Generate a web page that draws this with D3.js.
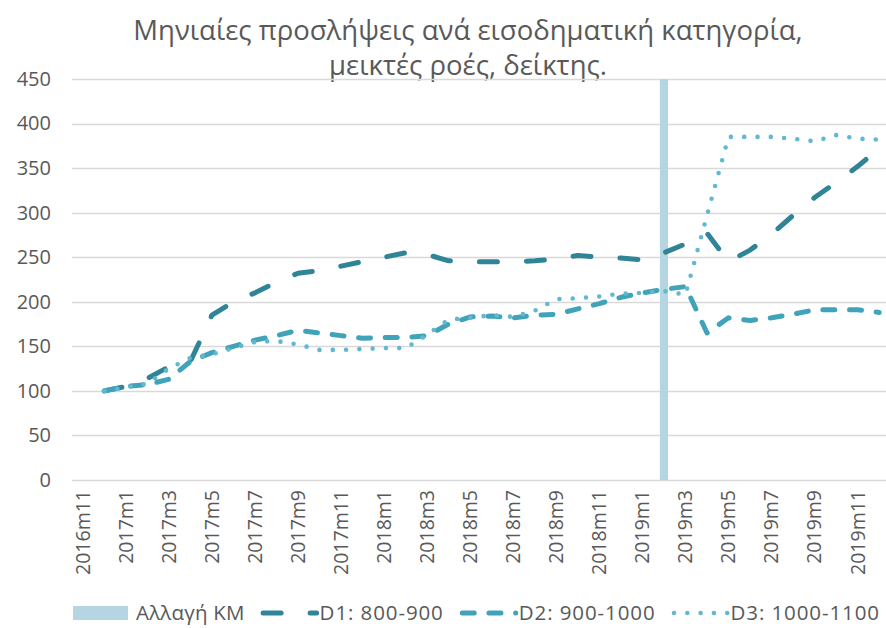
<!DOCTYPE html>
<html>
<head>
<meta charset="utf-8">
<script src="https://d3js.org/d3.v7.min.js"></script>
<style>
  body { margin: 0; background: #fff; }
  svg { display: block; font-family: "Open Sans", sans-serif; }
</style>
</head>
<body>
<svg width="886" height="628"></svg>
<script>
// categories: monthly, 2016m11 .. 2019m12
const months = ["2016m11","2016m12",
  "2017m1","2017m2","2017m3","2017m4","2017m5","2017m6","2017m7","2017m8","2017m9","2017m10","2017m11","2017m12",
  "2018m1","2018m2","2018m3","2018m4","2018m5","2018m6","2018m7","2018m8","2018m9","2018m10","2018m11","2018m12",
  "2019m1","2019m2","2019m3","2019m4","2019m5","2019m6","2019m7","2019m8","2019m9","2019m10","2019m11","2019m12"];

const d1 = [null,100,
  105,114,127,133,185,200,210,222,232,235,240,245,
  250,255,253,246,245,245,245,246,248,252,250,249,
  247,255,265,277,245,258,276,297,317,334,352,372];

const d2 = [null,100,
  105,107,113,133,143,150,157,162,168,165,162,159,
  160,160,162,175,183,184,182,185,186,192,198,205,
  210,214,217,165,182,179,182,186,191,191,191,188];

const d3v = [null,100,
  104,108,125,137,141,148,155,156,152,146,146,147,
  148,148,163,180,182,185,183,190,203,204,206,209,
  210,212,208,297,385,385,385,383,380,387,383,382];

// "Αλλαγή ΚΜ" marker bar
const changeMonth = "2019m2";
const changeValue = 450;

const seriesNames = ["Αλλαγή ΚΜ", "D1: 800-900", "D2: 900-1000", "D3: 1000-1100"];
const yTicks = [0, 50, 100, 150, 200, 250, 300, 350, 400, 450];
const titleLines = ["Μηνιαίες προσλήψεις ανά εισοδηματική κατηγορία,", "μεικτές ροές, δείκτης."];

const svg = d3.select("svg"),
  textColor = "#595959",
  gridColor = "#d9d9d9";

const x = d3.scaleBand()
  .domain(months)
  .range([72, 890]);

const y = d3.scaleLinear()
  .domain([0, 450])
  .range([480, 79]);

// title
svg.append("g")
  .selectAll("text")
  .data(titleLines)
  .enter().append("text")
  .attr("x", 468)
  .attr("y", (d, i) => 40 + i * 35)
  .attr("text-anchor", "middle")
  .attr("fill", textColor)
  .style("font-size", "27.5px")
  .text(d => d);

// gridlines
svg.append("g")
  .selectAll("line")
  .data(yTicks)
  .enter().append("line")
  .attr("x1", 72)
  .attr("x2", 886)
  .attr("y1", d => Math.round(y(d)) + 0.5)
  .attr("y2", d => Math.round(y(d)) + 0.5)
  .attr("stroke", gridColor)
  .attr("stroke-width", 1.3);

// y axis labels
const yAxis = svg.append("g")
  .attr("transform", "translate(51,0)")
  .call(d3.axisLeft(y).tickValues(yTicks).tickSize(0).tickPadding(0));
yAxis.select(".domain").remove();
yAxis.selectAll("text")
  .attr("fill", textColor)
  .style("font-size", "20px")
  .style("font-family", "'Open Sans', sans-serif");

// x axis labels, every second month, rotated
const xAxis = svg.append("g")
  .attr("transform", "translate(0,480)")
  .call(d3.axisBottom(x)
    .tickValues(months.filter((d, i) => i % 2 === 0))
    .tickSize(0));
xAxis.select(".domain").remove();
xAxis.selectAll("text")
  .attr("transform", "rotate(-90)")
  .attr("text-anchor", "end")
  .attr("x", -10)
  .attr("y", 0)
  .attr("dy", "0.35em")
  .attr("fill", textColor)
  .style("font-size", "19.5px")
  .style("font-family", "'Open Sans', sans-serif");

// bar
const barColor = "#b4d5e1";
const barW = x.bandwidth() * 0.38;
svg.append("rect")
  .attr("x", x(changeMonth) + (x.bandwidth() - barW) / 2)
  .attr("y", y(changeValue))
  .attr("width", barW)
  .attr("height", y(0) - y(changeValue))
  .attr("fill", barColor);

// lines
const styles = [
  { data: d1, color: "#2f8496", width: 5, dash: "18 29" },
  { data: d2, color: "#40a3ba", width: 5, dash: "12 14.7" },
  { data: d3v, color: "#62b8d0", width: 4.6, dash: "0 13.3" }
];

const line = d3.line()
  .defined(d => d != null)
  .x((d, i) => x(months[i]) + x.bandwidth() / 2)
  .y(d => y(d));

styles.forEach(function(s) {
  svg.append("path")
    .datum(s.data)
    .attr("d", line)
    .attr("fill", "none")
    .attr("stroke", s.color)
    .attr("stroke-width", s.width)
    .attr("stroke-dasharray", s.dash)
    .attr("stroke-linecap", "round")
    .attr("stroke-linejoin", "round");
});

// legend
const legend = svg.append("g").attr("class", "legend");
const ly = 613;
let lx = 73;

legend.append("rect")
  .attr("x", lx)
  .attr("y", ly - 7)
  .attr("width", 55)
  .attr("height", 14)
  .attr("fill", barColor);
lx += 63;

seriesNames.forEach(function(name, i) {
  if (i > 0) {
    const s = styles[i - 1];
    legend.append("line")
      .attr("x1", lx + 2.5)
      .attr("x2", lx + 56)
      .attr("y1", ly)
      .attr("y2", ly)
      .attr("stroke", s.color)
      .attr("stroke-width", s.width)
      .attr("stroke-dasharray", s.dash)
      .attr("stroke-linecap", "round");
    lx += 59;
  }
  const t = legend.append("text")
    .attr("x", lx)
    .attr("y", ly)
    .attr("dy", "0.35em")
    .attr("fill", textColor)
    .style("font-size", "20.5px")
    .style("letter-spacing", i > 0 ? "0.9px" : "0.2px")
    .text(name);
  lx += t.node().getComputedTextLength() + 16;
});
</script>
</body>
</html>
